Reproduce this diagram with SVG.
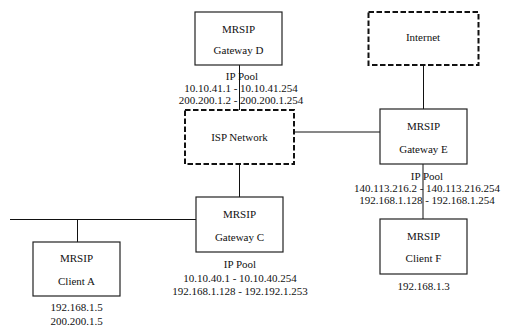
<svg xmlns="http://www.w3.org/2000/svg" width="509" height="329" viewBox="0 0 509 329">
<style>
text{font-family:"Liberation Serif","Times New Roman",serif;font-size:11px;fill:#111;text-anchor:middle}
.box{fill:#fff;stroke:#222;stroke-width:1.2}
.cloud{fill:#fff;stroke:#111;stroke-width:2;stroke-dasharray:5.5 2.5}
.ln{stroke:#111;stroke-width:1;fill:none}
</style>
<rect width="509" height="329" fill="#fff"/>
<g id="connectors">
<line class="ln" x1="239.5" y1="65" x2="239.5" y2="110"/>
<line class="ln" x1="423.5" y1="65" x2="423.5" y2="109"/>
<line class="ln" x1="294" y1="132" x2="380" y2="132"/>
<line class="ln" x1="239.5" y1="164" x2="239.5" y2="197"/>
<line class="ln" x1="423" y1="164" x2="423" y2="219"/>
<line class="ln" x1="10" y1="219.5" x2="196" y2="219.5"/>
<line class="ln" x1="77.5" y1="219.5" x2="77.5" y2="242"/>
</g>
<g id="gatewayD">
<rect class="box" x="195" y="12" width="87" height="53"/>
<text x="238.5" y="33">MRSIP</text>
<text x="238.5" y="54">Gateway D</text>
<text x="242" y="80">IP Pool</text>
<text x="241" y="92">10.10.41.1 - 10.10.41.254</text>
<text x="241" y="104">200.200.1.2 - 200.200.1.254</text>
</g>
<g id="internet">
<rect class="cloud" x="368.5" y="12" width="110" height="53"/>
<text x="423" y="41">Internet</text>
</g>
<g id="isp">
<rect class="cloud" x="185" y="110" width="109" height="54"/>
<text x="239.5" y="141">ISP Network</text>
</g>
<g id="gatewayE">
<rect class="box" x="380" y="109" width="87" height="55"/>
<text x="423.5" y="130">MRSIP</text>
<text x="423.5" y="153">Gateway E</text>
<text x="427" y="180">IP Pool</text>
<text x="427" y="192">140.113.216.2 - 140.113.216.254</text>
<text x="427" y="204">192.168.1.128 - 192.168.1.254</text>
</g>
<g id="gatewayC">
<rect class="box" x="196" y="197" width="87" height="55"/>
<text x="239.5" y="218">MRSIP</text>
<text x="239.5" y="241">Gateway C</text>
<text x="240" y="268">IP Pool</text>
<text x="240" y="282">10.10.40.1 - 10.10.40.254</text>
<text x="240" y="295">192.168.1.128 - 192.192.1.253</text>
</g>
<g id="clientA">
<rect class="box" x="33" y="242" width="87" height="54"/>
<text x="76.5" y="262">MRSIP</text>
<text x="76.5" y="285">Client A</text>
<text x="76.5" y="311">192.168.1.5</text>
<text x="76.5" y="325">200.200.1.5</text>
</g>
<g id="clientF">
<rect class="box" x="380" y="219" width="87" height="55"/>
<text x="423.5" y="240">MRSIP</text>
<text x="423.5" y="262">Client F</text>
<text x="423.5" y="290">192.168.1.3</text>
</g>
</svg>
